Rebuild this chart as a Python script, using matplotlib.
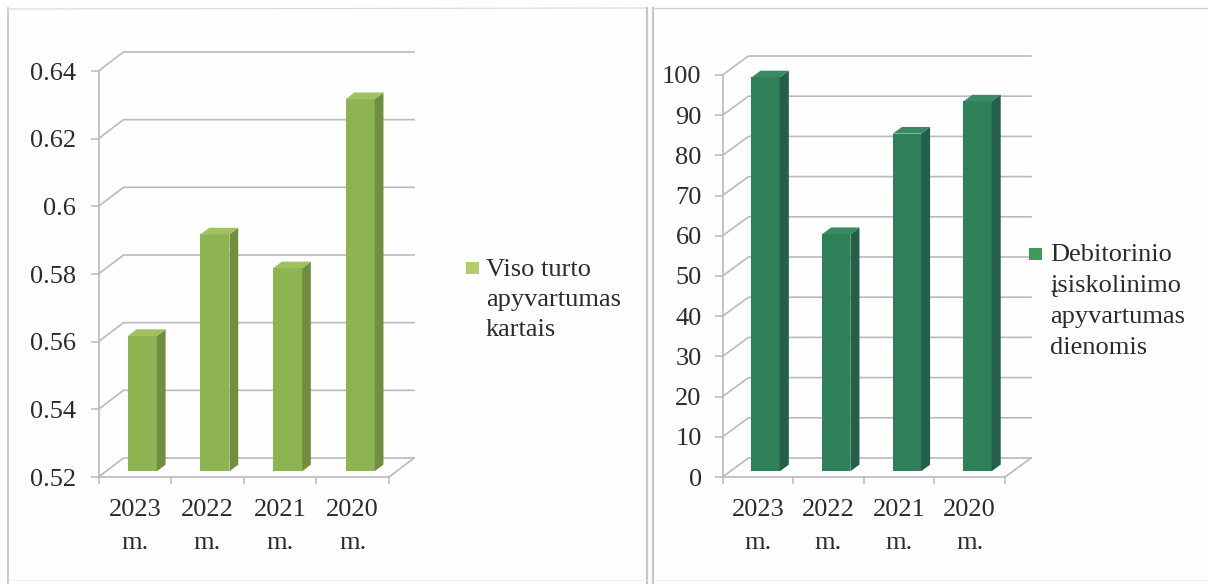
import matplotlib
matplotlib.use("Agg")
import matplotlib.pyplot as plt
from matplotlib.lines import Line2D
from matplotlib.patches import Polygon, Rectangle

plt.rcParams['font.family'] = ['Liberation Serif', 'DejaVu Serif']

W, H = 1208, 584
DPI = 100
TEXT = '#2b2b2b'
GRID = '#b9babe'
FS = 19

categories = ['2023\nm.', '2022\nm.', '2021\nm.', '2020\nm.']
turnover_times = [0.56, 0.59, 0.58, 0.63]
receivable_days = [98, 59, 84, 92]
left_ticks = [0.52, 0.54, 0.56, 0.58, 0.6, 0.62, 0.64]
left_tick_labels = ['0.52', '0.54', '0.56', '0.58', '0.6', '0.62', '0.64']
right_ticks = list(range(0, 101, 10))
right_tick_labels = [str(t) for t in right_ticks]
legend_left = 'Viso turto\napyvartumas\nkartais'
legend_right = 'Debitorinio\nįsiskolinimo\napyvartumas\ndienomis'

fig = plt.figure(figsize=(W / DPI, H / DPI), dpi=DPI, facecolor='#fefefe')


def fx(px):
    return px / W


def fy(py):
    return 1 - py / H


def panel(box, values, ticks, labels, depth_px, colors, pad):
    x0, x1, ytop, ybot = box
    ax = fig.add_axes([fx(x0), fy(ybot), fx(x1 - x0), (ybot - ytop) / H])
    n = len(values)
    lo, hi = ticks[0], ticks[-1]
    ax.set_xlim(0, n)
    ax.set_ylim(lo, hi)
    ax.patch.set_alpha(0)
    dx = depth_px[0] / ((x1 - x0) / n)
    dy = depth_px[1] / (ybot - ytop) * (hi - lo)

    for t in ticks:
        ax.plot([0, dx, n + dx], [t, t + dy, t + dy], color=GRID, lw=1.2,
                clip_on=False, zorder=1, solid_joinstyle='round')
    ax.plot([n, n + dx], [lo, lo + dy], color=GRID, lw=1.2, clip_on=False, zorder=1)

    d0, d1 = 0.3, 0.65
    width = 0.4
    face, side, top = colors
    for i, v in enumerate(values):
        left = i + 0.5 - width / 2 + d0 * dx
        right = left + width
        base = lo + d0 * dy
        vtop = v + d0 * dy
        ex = (d1 - d0) * dx
        ey = (d1 - d0) * dy
        ax.bar(left, vtop - base, width=width, bottom=base, align='edge',
               color=face, zorder=3, clip_on=False, linewidth=0)
        ax.add_patch(Polygon([(right, base), (right + ex, base + ey),
                              (right + ex, vtop + ey), (right, vtop)],
                             closed=True, fc=side, ec='none', zorder=3, clip_on=False))
        ax.add_patch(Polygon([(left, vtop), (right, vtop),
                              (right + ex, vtop + ey), (left + ex, vtop + ey)],
                             closed=True, fc=top, ec='none', zorder=3, clip_on=False))

    for s in ('top', 'right'):
        ax.spines[s].set_visible(False)
    for s in ('left', 'bottom'):
        ax.spines[s].set_color(GRID)
        ax.spines[s].set_linewidth(1.2)
        ax.spines[s].set_zorder(2)

    ax.set_yticks(ticks)
    ax.set_yticklabels(labels)
    ax.tick_params(axis='y', length=5.5, width=1.1, color=GRID, pad=pad,
                   labelsize=FS, labelcolor=TEXT)
    ax.set_xticks(range(n + 1))
    ax.set_xticklabels([])
    ax.set_xticks([i + 0.5 for i in range(n)], minor=True)
    ax.set_xticklabels(categories, minor=True, linespacing=1.62)
    ax.tick_params(axis='x', which='major', length=5, width=1.1, color=GRID)
    ax.tick_params(axis='x', which='minor', length=0, pad=16, labelsize=FS, labelcolor=TEXT)
    return ax


panel((98.5, 389, 71, 477), turnover_times, left_ticks, left_tick_labels,
      (25, 19), ('#8db451', '#6f8f3f', '#9fc160'), 10.5)
panel((722.5, 1005, 75, 477), receivable_days, right_ticks, right_tick_labels,
      (26, 19), ('#2f7f59', '#235f49', '#3a8a66'), 9.5)

# legends
fig.add_artist(Rectangle((fx(466), fy(274)), 13 / W, 12 / H, transform=fig.transFigure,
                         fc='#b5cc6a', ec='none'))
fig.text(fx(486), fy(259), legend_left, fontsize=FS, color=TEXT, va='top', ha='left',
         linespacing=1.46)
fig.add_artist(Rectangle((fx(1029), fy(260)), 13 / W, 12 / H, transform=fig.transFigure,
                         fc='#3f9a58', ec='none'))
fig.text(fx(1050), fy(244), legend_right, fontsize=FS, color=TEXT, va='top', ha='left',
         linespacing=1.52)

# frame lines of the two scanned panels
BORDER = '#c6c6c9'
for (xa, ya, xb, yb, lw, col) in [
    (8, 8, 8, 584, 1.2, BORDER), (8, 9, 647, 8, 0.8, '#d8d8da'), (647, 8, 647, 584, 1.6, BORDER),
    (653, 8, 653, 584, 1.6, BORDER), (653, 8, 1208, 8, 0.9, '#d0d0d3'),
    (8, 580, 647, 580, 0.5, '#ecECEE'), (653, 580, 1208, 580, 0.5, '#ecECEE'),
]:
    fig.add_artist(Line2D([fx(xa), fx(xb)], [fy(ya), fy(yb)], transform=fig.transFigure,
                          color=col, lw=lw))

fig.savefig('out.png', dpi=DPI, facecolor=fig.get_facecolor())
